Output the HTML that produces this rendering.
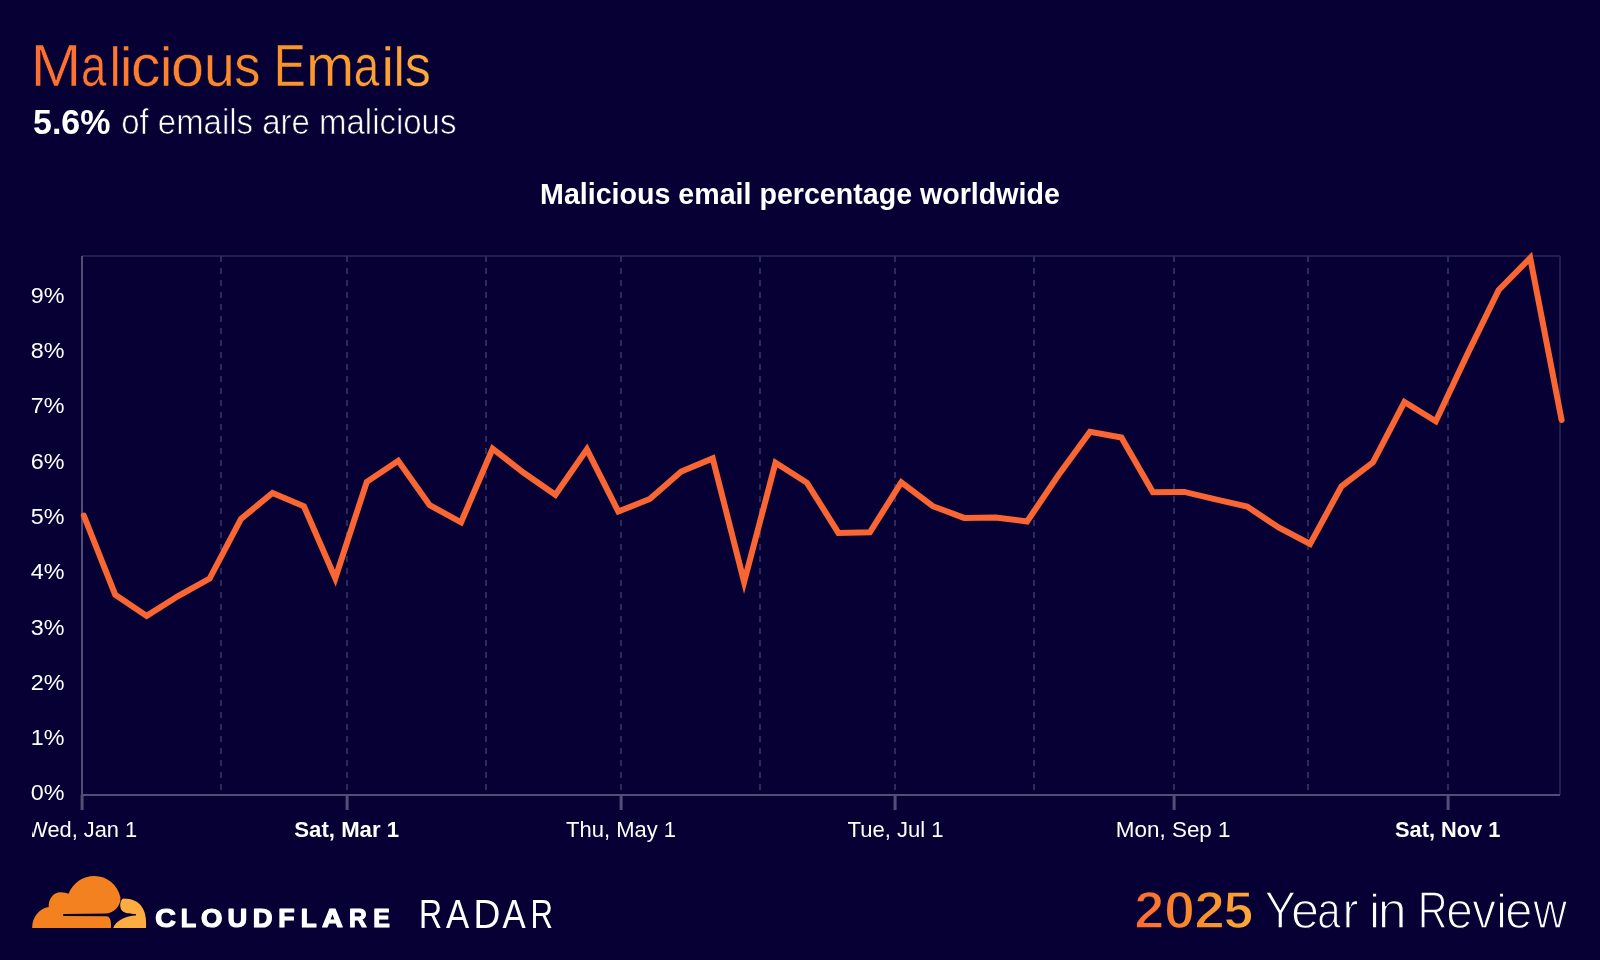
<!DOCTYPE html>
<html><head><meta charset="utf-8">
<style>
html,body{margin:0;padding:0;}
body{width:1600px;height:960px;overflow:hidden;background:#070034;position:relative;}
svg{position:absolute;left:0;top:0;will-change:transform;}
svg{fill:#fff;} svg text{font-family:"Liberation Sans",sans-serif;}
.g{stroke:#2f2a5c;stroke-width:2;stroke-dasharray:6 6;}
.ax{stroke:#524e77;stroke-width:2;}
.fr{stroke:#221d4b;stroke-width:2;fill:none;}
.yl{font-size:23px;text-anchor:end;}
</style></head><body>
<svg width="1600" height="960" viewBox="0 0 1600 960">
<defs>
<linearGradient id="gt" gradientUnits="userSpaceOnUse" x1="35" y1="0" x2="430" y2="0"><stop offset="0" stop-color="#FE6D33"/><stop offset="0.6" stop-color="#F99228"/><stop offset="1" stop-color="#FDA93C"/></linearGradient>
<linearGradient id="gy" gradientUnits="userSpaceOnUse" x1="1137" y1="0" x2="1252" y2="0"><stop offset="0" stop-color="#FE6B32"/><stop offset="0.55" stop-color="#F98E2C"/><stop offset="1" stop-color="#FBA93A"/></linearGradient>
<clipPath id="cp"><rect x="32" y="0" width="1568" height="960"/></clipPath>
</defs>
<g style="fill:url(#gt);stroke:#070034;stroke-width:0.5px;"><text x="30.68" y="86.20" font-size="58.5" font-weight="normal" textLength="50.43" lengthAdjust="spacingAndGlyphs">M</text><text x="81.01" y="86.20" font-size="58.5" font-weight="normal" textLength="25.34" lengthAdjust="spacingAndGlyphs">a</text><text x="109.60" y="86.20" font-size="58.5" font-weight="normal" textLength="11.38" lengthAdjust="spacingAndGlyphs" transform="translate(0 86.20) scale(1 0.95) translate(0 -86.20)">l</text><text x="119.67" y="86.20" font-size="58.5" font-weight="normal" textLength="12.89" lengthAdjust="spacingAndGlyphs" transform="translate(0 86.20) scale(1 0.95) translate(0 -86.20)">i</text><text x="130.95" y="86.20" font-size="58.5" font-weight="normal" textLength="29.46" lengthAdjust="spacingAndGlyphs">c</text><text x="159.77" y="86.20" font-size="58.5" font-weight="normal" textLength="12.89" lengthAdjust="spacingAndGlyphs" transform="translate(0 86.20) scale(1 0.95) translate(0 -86.20)">i</text><text x="170.95" y="86.20" font-size="58.5" font-weight="normal" textLength="33.10" lengthAdjust="spacingAndGlyphs">o</text><text x="203.96" y="86.20" font-size="58.5" font-weight="normal" textLength="30.77" lengthAdjust="spacingAndGlyphs">u</text><text x="234.19" y="86.20" font-size="58.5" font-weight="normal" textLength="26.14" lengthAdjust="spacingAndGlyphs">s</text><text x="273.70" y="86.20" font-size="58.5" font-weight="normal" textLength="32.12" lengthAdjust="spacingAndGlyphs">E</text><text x="306.01" y="86.20" font-size="58.5" font-weight="normal" textLength="48.15" lengthAdjust="spacingAndGlyphs">m</text><text x="353.81" y="86.20" font-size="58.5" font-weight="normal" textLength="25.44" lengthAdjust="spacingAndGlyphs">a</text><text x="381.37" y="86.20" font-size="58.5" font-weight="normal" textLength="12.89" lengthAdjust="spacingAndGlyphs" transform="translate(0 86.20) scale(1 0.95) translate(0 -86.20)">i</text><text x="393.60" y="86.20" font-size="58.5" font-weight="normal" textLength="11.38" lengthAdjust="spacingAndGlyphs" transform="translate(0 86.20) scale(1 0.95) translate(0 -86.20)">l</text><text x="404.79" y="86.20" font-size="58.5" font-weight="normal" textLength="26.14" lengthAdjust="spacingAndGlyphs">s</text></g><text x="33.01" y="133.6" font-size="34.2" font-weight="bold" textLength="77.43" lengthAdjust="spacingAndGlyphs">5.6%</text><text x="121.19" y="133.6" font-size="34.2" font-weight="normal" textLength="335.24" lengthAdjust="spacingAndGlyphs" style="stroke:#070034;stroke-width:0.7px;">of emails are malicious</text><text x="540.09" y="203.75" font-size="30" font-weight="bold" textLength="519.76" lengthAdjust="spacingAndGlyphs">Malicious email percentage worldwide</text>
<line x1="82" y1="256" x2="1560" y2="256" class="fr"/>
<line x1="1560" y1="256" x2="1560" y2="795" class="fr"/>
<line x1="221" y1="256" x2="221" y2="794" class="g"/><line x1="347" y1="256" x2="347" y2="794" class="g"/><line x1="486" y1="256" x2="486" y2="794" class="g"/><line x1="621" y1="256" x2="621" y2="794" class="g"/><line x1="760" y1="256" x2="760" y2="794" class="g"/><line x1="895" y1="256" x2="895" y2="794" class="g"/><line x1="1034" y1="256" x2="1034" y2="794" class="g"/><line x1="1174" y1="256" x2="1174" y2="794" class="g"/><line x1="1308" y1="256" x2="1308" y2="794" class="g"/><line x1="1448" y1="256" x2="1448" y2="794" class="g"/>
<line x1="82" y1="256" x2="82" y2="810" class="ax"/>
<line x1="82" y1="795" x2="1560" y2="795" class="ax"/>
<line x1="82.1" y1="795" x2="82.1" y2="810" class="ax" style="stroke-width:3"/><line x1="347.1" y1="795" x2="347.1" y2="810" class="ax" style="stroke-width:3"/><line x1="621.1" y1="795" x2="621.1" y2="810" class="ax" style="stroke-width:3"/><line x1="895.1" y1="795" x2="895.1" y2="810" class="ax" style="stroke-width:3"/><line x1="1174.1" y1="795" x2="1174.1" y2="810" class="ax" style="stroke-width:3"/><line x1="1448.1" y1="795" x2="1448.1" y2="810" class="ax" style="stroke-width:3"/>
<text x="30.88" y="800.40" font-size="22" textLength="33.70" lengthAdjust="spacingAndGlyphs">0%</text><text x="30.88" y="745.11" font-size="22" textLength="33.70" lengthAdjust="spacingAndGlyphs">1%</text><text x="30.88" y="689.82" font-size="22" textLength="33.70" lengthAdjust="spacingAndGlyphs">2%</text><text x="30.88" y="634.53" font-size="22" textLength="33.70" lengthAdjust="spacingAndGlyphs">3%</text><text x="30.88" y="579.24" font-size="22" textLength="33.70" lengthAdjust="spacingAndGlyphs">4%</text><text x="30.88" y="523.95" font-size="22" textLength="33.70" lengthAdjust="spacingAndGlyphs">5%</text><text x="30.88" y="468.66" font-size="22" textLength="33.70" lengthAdjust="spacingAndGlyphs">6%</text><text x="30.88" y="413.37" font-size="22" textLength="33.70" lengthAdjust="spacingAndGlyphs">7%</text><text x="30.88" y="358.08" font-size="22" textLength="33.70" lengthAdjust="spacingAndGlyphs">8%</text><text x="30.88" y="302.79" font-size="22" textLength="33.70" lengthAdjust="spacingAndGlyphs">9%</text>
<g clip-path="url(#cp)"><text x="27.20" y="836.8" font-size="22.5" font-weight="normal" textLength="110.00" lengthAdjust="spacingAndGlyphs">Wed, Jan 1</text><text x="294.31" y="836.8" font-size="22.5" font-weight="bold" textLength="104.78" lengthAdjust="spacingAndGlyphs">Sat, Mar 1</text><text x="566.00" y="836.8" font-size="22.5" font-weight="normal" textLength="110.04" lengthAdjust="spacingAndGlyphs">Thu, May 1</text><text x="847.50" y="836.8" font-size="22.5" font-weight="normal" textLength="95.95" lengthAdjust="spacingAndGlyphs">Tue, Jul 1</text><text x="1115.81" y="836.8" font-size="22.5" font-weight="normal" textLength="114.77" lengthAdjust="spacingAndGlyphs">Mon, Sep 1</text><text x="1395.03" y="836.8" font-size="22.5" font-weight="bold" textLength="105.24" lengthAdjust="spacingAndGlyphs">Sat, Nov 1</text></g>
<path d="M83.8,515.5 L115.2,594.7 L146.7,615.9 L178.1,596.0 L209.6,578.6 L241.0,518.9 L272.5,492.9 L303.9,506.2 L335.3,578.3 L366.8,481.8 L398.2,460.8 L429.7,505.2 L461.1,522.3 L492.6,448.7 L524.0,473.0 L555.4,494.8 L586.9,449.4 L618.3,511.5 L649.8,499.0 L681.2,471.6 L712.7,458.4 L744.1,582.0 L775.5,462.8 L807.0,482.8 L838.4,532.9 L869.9,532.3 L901.3,482.3 L932.8,506.2 L964.2,517.9 L995.6,517.5 L1027.1,521.5 L1058.5,475.0 L1090.0,431.9 L1121.4,437.5 L1152.9,492.2 L1184.3,491.9 L1215.7,499.4 L1247.2,506.5 L1278.6,527.5 L1310.1,544.0 L1341.5,486.3 L1373.0,462.3 L1404.4,402.0 L1435.8,421.2 L1467.3,354.4 L1498.7,289.9 L1530.2,258.0 L1561.6,420.0" fill="none" stroke="#F96634" stroke-width="6" stroke-linejoin="miter" stroke-linecap="round"/>
<g stroke="#fff" stroke-width="1.2" stroke-linejoin="round"><text x="155.33" y="927.10" font-size="25.7" font-weight="bold" textLength="20.66" lengthAdjust="spacingAndGlyphs">C</text><text x="180.81" y="927.10" font-size="25.7" font-weight="bold" textLength="15.47" lengthAdjust="spacingAndGlyphs">L</text><text x="201.07" y="927.10" font-size="25.7" font-weight="bold" textLength="21.38" lengthAdjust="spacingAndGlyphs">O</text><text x="227.46" y="927.10" font-size="25.7" font-weight="bold" textLength="19.70" lengthAdjust="spacingAndGlyphs">U</text><text x="252.67" y="927.10" font-size="25.7" font-weight="bold" textLength="19.78" lengthAdjust="spacingAndGlyphs">D</text><text x="278.21" y="927.10" font-size="25.7" font-weight="bold" textLength="16.37" lengthAdjust="spacingAndGlyphs">F</text><text x="300.75" y="927.10" font-size="25.7" font-weight="bold" textLength="15.95" lengthAdjust="spacingAndGlyphs">L</text><text x="322.08" y="927.10" font-size="25.7" font-weight="bold" textLength="20.88" lengthAdjust="spacingAndGlyphs">A</text><text x="349.06" y="927.10" font-size="25.7" font-weight="bold" textLength="17.75" lengthAdjust="spacingAndGlyphs">R</text><text x="373.23" y="927.10" font-size="25.7" font-weight="bold" textLength="16.64" lengthAdjust="spacingAndGlyphs">E</text></g>
<g style=""><text x="418.88" y="927.50" font-size="40" font-weight="normal" textLength="23.11" lengthAdjust="spacingAndGlyphs">R</text><text x="445.93" y="927.50" font-size="40" font-weight="normal" textLength="23.14" lengthAdjust="spacingAndGlyphs">A</text><text x="473.45" y="927.50" font-size="40" font-weight="normal" textLength="26.82" lengthAdjust="spacingAndGlyphs">D</text><text x="502.43" y="927.50" font-size="40" font-weight="normal" textLength="23.14" lengthAdjust="spacingAndGlyphs">A</text><text x="530.44" y="927.50" font-size="40" font-weight="normal" textLength="22.50" lengthAdjust="spacingAndGlyphs">R</text></g><g style="fill:url(#gy);stroke:#070034;stroke-width:1.5px;"><text x="1134.38" y="928.00" font-size="51.3" font-weight="bold" textLength="30.03" lengthAdjust="spacingAndGlyphs">2</text><text x="1164.05" y="928.00" font-size="51.3" font-weight="bold" textLength="30.99" lengthAdjust="spacingAndGlyphs">0</text><text x="1194.34" y="928.00" font-size="51.3" font-weight="bold" textLength="30.61" lengthAdjust="spacingAndGlyphs">2</text><text x="1223.60" y="928.00" font-size="51.3" font-weight="bold" textLength="29.84" lengthAdjust="spacingAndGlyphs">5</text></g><g style="stroke:#070034;stroke-width:1.4px;"><text x="1264.46" y="928.00" font-size="51.3" font-weight="normal" textLength="31.58" lengthAdjust="spacingAndGlyphs">Y</text><text x="1290.95" y="928.00" font-size="51.3" font-weight="normal" textLength="28.09" lengthAdjust="spacingAndGlyphs">e</text><text x="1317.31" y="928.00" font-size="51.3" font-weight="normal" textLength="23.39" lengthAdjust="spacingAndGlyphs">a</text><text x="1342.51" y="928.00" font-size="51.3" font-weight="normal" textLength="15.98" lengthAdjust="spacingAndGlyphs">r</text><text x="1368.70" y="928.00" font-size="51.3" font-weight="normal" textLength="11.63" lengthAdjust="spacingAndGlyphs" transform="translate(0 928.00) scale(1 0.95) translate(0 -928.00)">i</text><text x="1377.85" y="928.00" font-size="51.3" font-weight="normal" textLength="28.93" lengthAdjust="spacingAndGlyphs">n</text><text x="1417.70" y="928.00" font-size="51.3" font-weight="normal" textLength="29.92" lengthAdjust="spacingAndGlyphs">R</text><text x="1446.27" y="928.00" font-size="51.3" font-weight="normal" textLength="26.55" lengthAdjust="spacingAndGlyphs">e</text><text x="1472.14" y="928.00" font-size="51.3" font-weight="normal" textLength="23.72" lengthAdjust="spacingAndGlyphs">v</text><text x="1495.95" y="928.00" font-size="51.3" font-weight="normal" textLength="11.12" lengthAdjust="spacingAndGlyphs" transform="translate(0 928.00) scale(1 0.95) translate(0 -928.00)">i</text><text x="1505.23" y="928.00" font-size="51.3" font-weight="normal" textLength="27.14" lengthAdjust="spacingAndGlyphs">e</text><text x="1533.37" y="928.00" font-size="51.3" font-weight="normal" textLength="33.72" lengthAdjust="spacingAndGlyphs">w</text></g>
</svg>
<svg style="position:absolute;left:25px;top:865px" width="130" height="70.03" viewBox="0 0 1600 862">
<path fill="#F48120" d="M88 775 C88 640 180 530 292 518 C285 420 350 335 435 335 C480 335 515 345 535 355 C590 220 710 135 855 135 C1010 135 1140 240 1175 400 C1180 500 1100 595 990 598 L470 602 L470 628 L1000 632 C1045 635 1065 680 1058 775 Z"/>
<path fill="#FBAD41" d="M1085 775 L1490 775 C1505 560 1430 413 1210 413 C1165 430 1160 530 1195 562 C1230 595 1290 600 1362 604 C1370 606 1370 620 1362 622 C1250 628 1120 680 1085 775 Z"/>
</svg>
</body></html>
